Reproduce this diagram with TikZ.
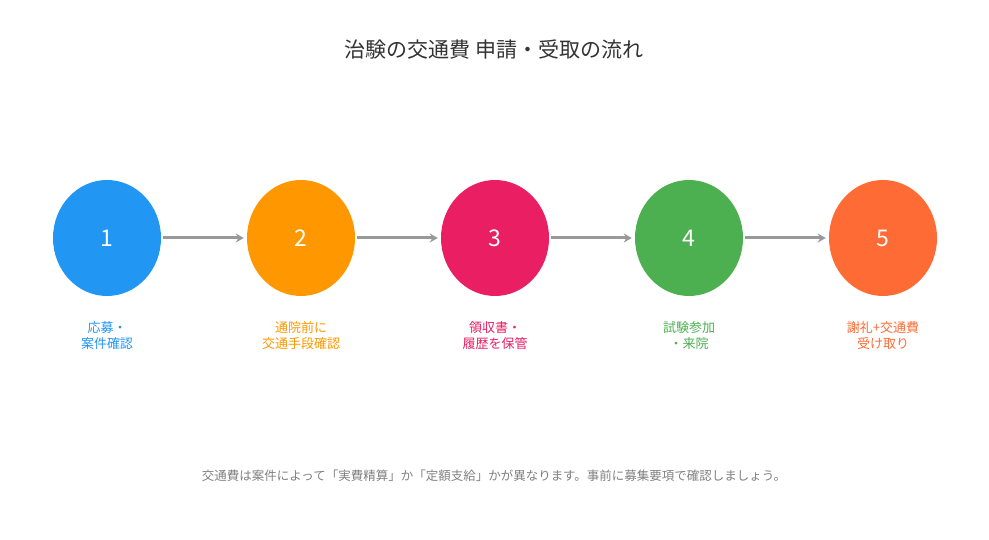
\documentclass[tikz,border=0pt]{standalone}
\usepackage{fontspec}
\setmainfont{Noto Sans CJK JP}
\usetikzlibrary{arrows.meta,shapes.geometric}
\definecolor{cA}{HTML}{2196F3}
\definecolor{cB}{HTML}{FF9800}
\definecolor{cC}{HTML}{E91E63}
\definecolor{cD}{HTML}{4CAF50}
\definecolor{cE}{HTML}{FF6B35}
\definecolor{arr}{HTML}{999999}
\begin{document}
\begin{tikzpicture}[x=1pt,y=-1pt,
  stepcirc/.style={ellipse,minimum width=108pt,minimum height=116pt,inner sep=0pt,text=white,font=\fontsize{23}{26}\selectfont},
  lbl/.style={align=center,font=\fontsize{13}{16}\selectfont},
  conn/.style={draw=arr,line width=3pt,shorten <=2pt,shorten >=3pt,-{Stealth[length=8pt,width=9pt]}}]
\useasboundingbox (0,0) rectangle (989,540);
\node[font=\fontsize{21}{24}\selectfont,text={rgb,255:red,51;green,51;blue,51}] (t) at (494,50) {治験の交通費 申請・受取の流れ};
\foreach \i/\x/\c/\l in {1/107/cA/{応募・\\案件確認},2/301/cB/{通院前に\\交通手段確認},3/495/cC/{領収書・\\履歴を保管},4/689/cD/{試験参加\\・来院},5/883/cE/{謝礼+交通費\\受け取り}}{
  \node[stepcirc,fill=\c] (n\i) at (\x,238) {\i};
  \node[lbl,text=\c] (l\i) at (\x,336) {\l};
}
\foreach \a/\b in {1/2,2/3,3/4,4/5}{\draw[conn] (n\a) -- (n\b);}
\node[font=\fontsize{12.5}{14}\selectfont,text={rgb,255:red,128;green,128;blue,128}] (f) at (494,476) {交通費は案件によって「実費精算」か「定額支給」かが異なります。事前に募集要項で確認しましょう。};
\end{tikzpicture}
\end{document}
